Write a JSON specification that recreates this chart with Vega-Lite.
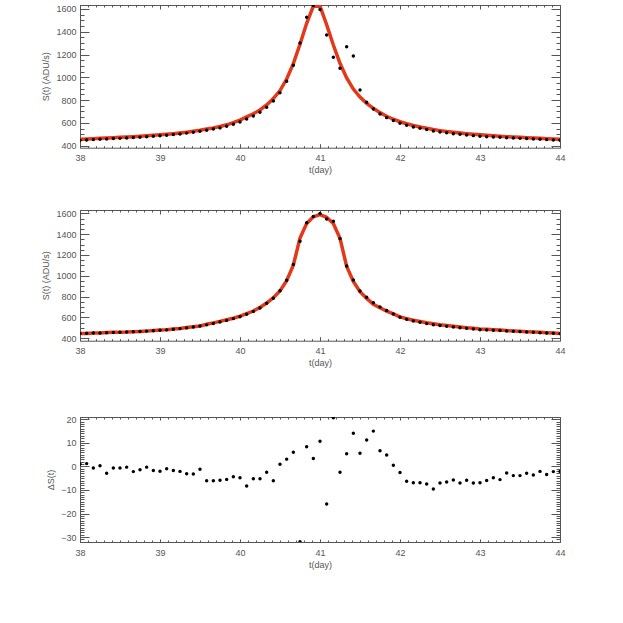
{
  "$schema": "https://vega.github.io/schema/vega-lite/v6.json",
  "padding": {"left": 41, "top": 3, "right": 5, "bottom": 5},
  "spacing": 46,
  "config": {
    "view": {"stroke": null},
    "axis": {
      "labelFont": "Liberation Sans", "labelFontSize": 9, "labelColor": "#555",
      "titleFont": "Liberation Sans", "titleFontSize": 9, "titleFontWeight": "normal", "titleColor": "#555",
      "domainColor": "#555", "tickColor": "#555", "grid": false, "domainWidth": 1, "tickWidth": 1,
      "labelFlush": false, "labelOverlap": false
    }
  },
  "datasets": {
    "p1": [
      {"t":38,"obs":448,"model":457},{"t":38.0833,"obs":450,"model":459},{"t":38.1667,"obs":453,"model":461},{"t":38.25,"obs":456,"model":464},
      {"t":38.3333,"obs":459,"model":467},{"t":38.4167,"obs":462,"model":470},{"t":38.5,"obs":464,"model":473},{"t":38.5833,"obs":467,"model":476},
      {"t":38.6667,"obs":471,"model":479},{"t":38.75,"obs":474,"model":483},{"t":38.8333,"obs":478,"model":487},{"t":38.9167,"obs":482,"model":491},
      {"t":39,"obs":487,"model":495},{"t":39.0833,"obs":492,"model":500},{"t":39.1667,"obs":497,"model":505},{"t":39.25,"obs":503,"model":511},
      {"t":39.3333,"obs":510,"model":518},{"t":39.4167,"obs":517,"model":526},{"t":39.5,"obs":526,"model":535},{"t":39.5833,"obs":536,"model":546},
      {"t":39.6667,"obs":546,"model":556},{"t":39.75,"obs":556,"model":568},{"t":39.8333,"obs":570,"model":583},{"t":39.9167,"obs":587,"model":602},
      {"t":40,"obs":608,"model":625},{"t":40.0833,"obs":634,"model":652},{"t":40.1667,"obs":661,"model":680},{"t":40.25,"obs":693,"model":713},
      {"t":40.3333,"obs":737,"model":757},{"t":40.4167,"obs":792,"model":813},{"t":40.5,"obs":864,"model":884},{"t":40.5833,"obs":966,"model":985},
      {"t":40.6667,"obs":1106,"model":1120},{"t":40.75,"obs":1302,"model":1290},{"t":40.8333,"obs":1527,"model":1474},{"t":40.9167,"obs":1630,"model":1625},
      {"t":41,"obs":1596,"model":1625},{"t":41.0833,"obs":1372,"model":1462},{"t":41.1667,"obs":1176,"model":1284},{"t":41.25,"obs":1079,"model":1123},
      {"t":41.3333,"obs":1269,"model":994},{"t":41.4167,"obs":1187,"model":897},{"t":41.5,"obs":889,"model":826},{"t":41.5833,"obs":781,"model":772},
      {"t":41.6667,"obs":722,"model":728},{"t":41.75,"obs":678,"model":690},{"t":41.8333,"obs":646,"model":658},{"t":41.9167,"obs":620,"model":632},
      {"t":42,"obs":596,"model":610},{"t":42.0833,"obs":579,"model":592},{"t":42.1667,"obs":564,"model":577},{"t":42.25,"obs":552,"model":564},
      {"t":42.3333,"obs":541,"model":552},{"t":42.4167,"obs":529,"model":541},{"t":42.5,"obs":520,"model":532},{"t":42.5833,"obs":514,"model":524},
      {"t":42.6667,"obs":505,"model":517},{"t":42.75,"obs":500,"model":511},{"t":42.8333,"obs":494,"model":505},{"t":42.9167,"obs":488,"model":500},
      {"t":43,"obs":482,"model":495},{"t":43.0833,"obs":479,"model":491},{"t":43.1667,"obs":476,"model":487},{"t":43.25,"obs":473,"model":483},
      {"t":43.3333,"obs":470,"model":479},{"t":43.4167,"obs":467,"model":476},{"t":43.5,"obs":464,"model":473},{"t":43.5833,"obs":462,"model":470},
      {"t":43.6667,"obs":459,"model":467},{"t":43.75,"obs":456,"model":464},{"t":43.8333,"obs":453,"model":461},{"t":43.9167,"obs":450,"model":458},
      {"t":44,"obs":447,"model":456}
    ],
    "p2": [
      {"t":38,"obs":446,"model":445},{"t":38.0833,"obs":448,"model":447},{"t":38.1667,"obs":450,"model":451},{"t":38.25,"obs":451,"model":451},
      {"t":38.3333,"obs":453,"model":456},{"t":38.4167,"obs":456,"model":457},{"t":38.5,"obs":458,"model":459},{"t":38.5833,"obs":460,"model":460},
      {"t":38.6667,"obs":462,"model":464},{"t":38.75,"obs":465,"model":466},{"t":38.8333,"obs":469,"model":469},{"t":38.9167,"obs":473,"model":475},
      {"t":39,"obs":477,"model":479},{"t":39.0833,"obs":481,"model":482},{"t":39.1667,"obs":487,"model":489},{"t":39.25,"obs":493,"model":495},
      {"t":39.3333,"obs":500,"model":503},{"t":39.4167,"obs":508,"model":511},{"t":39.5,"obs":518,"model":519},{"t":39.5833,"obs":529,"model":535},
      {"t":39.6667,"obs":542,"model":548},{"t":39.75,"obs":557,"model":563},{"t":39.8333,"obs":572,"model":578},{"t":39.9167,"obs":589,"model":593},
      {"t":40,"obs":608,"model":613},{"t":40.0833,"obs":630,"model":638},{"t":40.1667,"obs":657,"model":662},{"t":40.25,"obs":692,"model":697},
      {"t":40.3333,"obs":736,"model":739},{"t":40.4167,"obs":784,"model":790},{"t":40.5,"obs":856,"model":855},{"t":40.5833,"obs":957,"model":954},
      {"t":40.6667,"obs":1108,"model":1102},{"t":40.75,"obs":1331,"model":1363},{"t":40.8333,"obs":1510,"model":1502},{"t":40.9167,"obs":1570,"model":1567},
      {"t":41,"obs":1598,"model":1587},{"t":41.0833,"obs":1546,"model":1562},{"t":41.1667,"obs":1523,"model":1502},{"t":41.25,"obs":1357,"model":1360},
      {"t":41.3333,"obs":1094,"model":1089},{"t":41.4167,"obs":960,"model":946},{"t":41.5,"obs":854,"model":848},{"t":41.5833,"obs":794,"model":783},
      {"t":41.6667,"obs":742,"model":727},{"t":41.75,"obs":701,"model":694},{"t":41.8333,"obs":666,"model":661},{"t":41.9167,"obs":634,"model":634},
      {"t":42,"obs":602,"model":605},{"t":42.0833,"obs":582,"model":588},{"t":42.1667,"obs":566,"model":573},{"t":42.25,"obs":554,"model":561},
      {"t":42.3333,"obs":541,"model":549},{"t":42.4167,"obs":531,"model":540},{"t":42.5,"obs":522,"model":530},{"t":42.5833,"obs":515,"model":522},
      {"t":42.6667,"obs":509,"model":515},{"t":42.75,"obs":502,"model":509},{"t":42.8333,"obs":496,"model":502},{"t":42.9167,"obs":490,"model":497},
      {"t":43,"obs":483,"model":490},{"t":43.0833,"obs":480,"model":486},{"t":43.1667,"obs":477,"model":482},{"t":43.25,"obs":474,"model":479},
      {"t":43.3333,"obs":470,"model":474},{"t":43.4167,"obs":467,"model":471},{"t":43.5,"obs":464,"model":468},{"t":43.5833,"obs":461,"model":464},
      {"t":43.6667,"obs":458,"model":461},{"t":43.75,"obs":454,"model":457},{"t":43.8333,"obs":451,"model":454},{"t":43.9167,"obs":448,"model":450},
      {"t":44,"obs":445,"model":447}
    ],
    "p3": [
      {"t":38,"res":1.0},{"t":38.0833,"res":1.2},{"t":38.1667,"res":-0.7},{"t":38.25,"res":0.3},{"t":38.3333,"res":-2.9},{"t":38.4167,"res":-0.7},
      {"t":38.5,"res":-0.7},{"t":38.5833,"res":-0.3},{"t":38.6667,"res":-2.2},{"t":38.75,"res":-1.4},{"t":38.8333,"res":-0.3},{"t":38.9167,"res":-1.7},
      {"t":39,"res":-2.0},{"t":39.0833,"res":-1.0},{"t":39.1667,"res":-1.7},{"t":39.25,"res":-2.1},{"t":39.3333,"res":-3.1},{"t":39.4167,"res":-3.2},
      {"t":39.5,"res":-1.2},{"t":39.5833,"res":-6.1},{"t":39.6667,"res":-6.1},{"t":39.75,"res":-5.9},{"t":39.8333,"res":-5.5},{"t":39.9167,"res":-4.4},
      {"t":40,"res":-4.8},{"t":40.0833,"res":-8.3},{"t":40.1667,"res":-5.2},{"t":40.25,"res":-5.2},{"t":40.3333,"res":-2.5},{"t":40.4167,"res":-6.1},
      {"t":40.5,"res":0.9},{"t":40.5833,"res":3.1},{"t":40.6667,"res":6.0},{"t":40.75,"res":-32.0},{"t":40.8333,"res":8.4},{"t":40.9167,"res":3.4},
      {"t":41,"res":10.7},{"t":41.0833,"res":-16.0},{"t":41.1667,"res":20.7},{"t":41.25,"res":-2.5},{"t":41.3333,"res":5.4},{"t":41.4167,"res":14.1},
      {"t":41.5,"res":5.6},{"t":41.5833,"res":11.2},{"t":41.6667,"res":15.0},{"t":41.75,"res":6.7},{"t":41.8333,"res":4.9},{"t":41.9167,"res":0.5},
      {"t":42,"res":-2.6},{"t":42.0833,"res":-6.3},{"t":42.1667,"res":-6.9},{"t":42.25,"res":-6.9},{"t":42.3333,"res":-7.5},{"t":42.4167,"res":-9.6},
      {"t":42.5,"res":-7.0},{"t":42.5833,"res":-6.6},{"t":42.6667,"res":-5.8},{"t":42.75,"res":-7.0},{"t":42.8333,"res":-5.9},{"t":42.9167,"res":-7.0},
      {"t":43,"res":-6.9},{"t":43.0833,"res":-6.0},{"t":43.1667,"res":-4.8},{"t":43.25,"res":-5.6},{"t":43.3333,"res":-2.8},{"t":43.4167,"res":-3.9},
      {"t":43.5,"res":-3.9},{"t":43.5833,"res":-2.9},{"t":43.6667,"res":-3.6},{"t":43.75,"res":-2.1},{"t":43.8333,"res":-3.4},{"t":43.9167,"res":-2.2},
      {"t":44,"res":-2.1}
    ]
  },
  "vconcat": [
    {
      "spacing": 34,
      "vconcat": [
        {
          "width": 480, "height": 142.7,
          "data": {"name": "p1"},
          "layer": [
            {"mark": {"type": "line", "color": "#e3391a", "strokeWidth": 3.5, "clip": true},
             "encoding": {
               "x": {"field": "t", "type": "quantitative", "scale": {"domain": [38, 44], "nice": false, "zero": false},
                     "axis": {"orient": "bottom", "values": [38,39,40,41,42,43,44], "format": "d", "tickSize": -4, "labelPadding": 10, "title": "t(day)", "titlePadding": 3}},
               "y": {"field": "model", "type": "quantitative", "scale": {"domain": [382, 1635], "nice": false, "zero": false},
                     "axis": {"orient": "left", "values": [400,600,800,1000,1200,1400,1600], "format": "d", "tickSize": -9, "labelPadding": 13, "title": "S(t)  (ADU/s)", "titlePadding": 5}}
             }},
            {"mark": {"type": "circle", "color": "black", "size": 12, "opacity": 1, "clip": true},
             "encoding": {
               "x": {"field": "t", "type": "quantitative", "scale": {"domain": [38, 44], "nice": false, "zero": false},
                     "axis": {"orient": "top", "values": [38,39,40,41,42,43,44], "tickSize": -4, "labels": false, "title": null}},
               "y": {"field": "obs", "type": "quantitative", "scale": {"domain": [382, 1635], "nice": false, "zero": false},
                     "axis": {"orient": "right", "values": [400,600,800,1000,1200,1400,1600], "tickSize": -9, "labels": false, "title": null}}
             }},
            {"mark": {"type": "circle", "opacity": 0},
             "encoding": {
               "x": {"field": "t", "type": "quantitative", "scale": {"domain": [38, 44], "nice": false, "zero": false},
                     "axis": {"orient": "bottom", "values": [38,38.1,38.2,38.3,38.4,38.5,38.6,38.7,38.8,38.9,39,39.1,39.2,39.3,39.4,39.5,39.6,39.7,39.8,39.9,40,40.1,40.2,40.3,40.4,40.5,40.6,40.7,40.8,40.9,41,41.1,41.2,41.3,41.4,41.5,41.6,41.7,41.8,41.9,42,42.1,42.2,42.3,42.4,42.5,42.6,42.7,42.8,42.9,43,43.1,43.2,43.3,43.4,43.5,43.6,43.7,43.8,43.9,44], "tickSize": -2, "labels": false, "domain": false, "title": null}},
               "y": {"field": "model", "type": "quantitative", "scale": {"domain": [382, 1635], "nice": false, "zero": false},
                     "axis": {"orient": "left", "values": [400,450,500,550,600,650,700,750,800,850,900,950,1000,1050,1100,1150,1200,1250,1300,1350,1400,1450,1500,1550,1600], "tickSize": -4, "labels": false, "domain": false, "title": null}}
             }},
            {"mark": {"type": "circle", "opacity": 0},
             "encoding": {
               "x": {"field": "t", "type": "quantitative", "scale": {"domain": [38, 44], "nice": false, "zero": false},
                     "axis": {"orient": "top", "values": [38,38.1,38.2,38.3,38.4,38.5,38.6,38.7,38.8,38.9,39,39.1,39.2,39.3,39.4,39.5,39.6,39.7,39.8,39.9,40,40.1,40.2,40.3,40.4,40.5,40.6,40.7,40.8,40.9,41,41.1,41.2,41.3,41.4,41.5,41.6,41.7,41.8,41.9,42,42.1,42.2,42.3,42.4,42.5,42.6,42.7,42.8,42.9,43,43.1,43.2,43.3,43.4,43.5,43.6,43.7,43.8,43.9,44], "tickSize": -2, "labels": false, "domain": false, "title": null}},
               "y": {"field": "model", "type": "quantitative", "scale": {"domain": [382, 1635], "nice": false, "zero": false},
                     "axis": {"orient": "right", "values": [400,450,500,550,600,650,700,750,800,850,900,950,1000,1050,1100,1150,1200,1250,1300,1350,1400,1450,1500,1550,1600], "tickSize": -4, "labels": false, "domain": false, "title": null}}
             }}
          ],
          "resolve": {"axis": {"x": "independent", "y": "independent"}}
        },
        {
          "width": 480, "height": 130.7,
          "data": {"name": "p2"},
          "layer": [
            {"mark": {"type": "line", "color": "#e3391a", "strokeWidth": 3.5, "clip": true},
             "encoding": {
               "x": {"field": "t", "type": "quantitative", "scale": {"domain": [38, 44], "nice": false, "zero": false},
                     "axis": {"orient": "bottom", "values": [38,39,40,41,42,43,44], "format": "d", "tickSize": -4, "labelPadding": 10, "title": "t(day)", "titlePadding": 3}},
               "y": {"field": "model", "type": "quantitative", "scale": {"domain": [377, 1632], "nice": false, "zero": false},
                     "axis": {"orient": "left", "values": [400,600,800,1000,1200,1400,1600], "format": "d", "tickSize": -9, "labelPadding": 13, "title": "S(t)  (ADU/s)", "titlePadding": 5}}
             }},
            {"mark": {"type": "circle", "color": "black", "size": 12, "opacity": 1, "clip": true},
             "encoding": {
               "x": {"field": "t", "type": "quantitative", "scale": {"domain": [38, 44], "nice": false, "zero": false},
                     "axis": {"orient": "top", "values": [38,39,40,41,42,43,44], "tickSize": -4, "labels": false, "title": null}},
               "y": {"field": "obs", "type": "quantitative", "scale": {"domain": [377, 1632], "nice": false, "zero": false},
                     "axis": {"orient": "right", "values": [400,600,800,1000,1200,1400,1600], "tickSize": -9, "labels": false, "title": null}}
             }},
            {"mark": {"type": "circle", "opacity": 0},
             "encoding": {
               "x": {"field": "t", "type": "quantitative", "scale": {"domain": [38, 44], "nice": false, "zero": false},
                     "axis": {"orient": "bottom", "values": [38,38.1,38.2,38.3,38.4,38.5,38.6,38.7,38.8,38.9,39,39.1,39.2,39.3,39.4,39.5,39.6,39.7,39.8,39.9,40,40.1,40.2,40.3,40.4,40.5,40.6,40.7,40.8,40.9,41,41.1,41.2,41.3,41.4,41.5,41.6,41.7,41.8,41.9,42,42.1,42.2,42.3,42.4,42.5,42.6,42.7,42.8,42.9,43,43.1,43.2,43.3,43.4,43.5,43.6,43.7,43.8,43.9,44], "tickSize": -2, "labels": false, "domain": false, "title": null}},
               "y": {"field": "obs", "type": "quantitative", "scale": {"domain": [377, 1632], "nice": false, "zero": false},
                     "axis": {"orient": "left", "values": [400,450,500,550,600,650,700,750,800,850,900,950,1000,1050,1100,1150,1200,1250,1300,1350,1400,1450,1500,1550,1600], "tickSize": -4, "labels": false, "domain": false, "title": null}}
             }},
            {"mark": {"type": "circle", "opacity": 0},
             "encoding": {
               "x": {"field": "t", "type": "quantitative", "scale": {"domain": [38, 44], "nice": false, "zero": false},
                     "axis": {"orient": "top", "values": [38,38.1,38.2,38.3,38.4,38.5,38.6,38.7,38.8,38.9,39,39.1,39.2,39.3,39.4,39.5,39.6,39.7,39.8,39.9,40,40.1,40.2,40.3,40.4,40.5,40.6,40.7,40.8,40.9,41,41.1,41.2,41.3,41.4,41.5,41.6,41.7,41.8,41.9,42,42.1,42.2,42.3,42.4,42.5,42.6,42.7,42.8,42.9,43,43.1,43.2,43.3,43.4,43.5,43.6,43.7,43.8,43.9,44], "tickSize": -2, "labels": false, "domain": false, "title": null}},
               "y": {"field": "obs", "type": "quantitative", "scale": {"domain": [377, 1632], "nice": false, "zero": false},
                     "axis": {"orient": "right", "values": [400,450,500,550,600,650,700,750,800,850,900,950,1000,1050,1100,1150,1200,1250,1300,1350,1400,1450,1500,1550,1600], "tickSize": -4, "labels": false, "domain": false, "title": null}}
             }}
          ],
          "resolve": {"axis": {"x": "independent", "y": "independent"}}
        }
      ]
    },
    {
      "width": 480, "height": 125,
      "data": {"name": "p3"},
      "layer": [
        {"mark": {"type": "circle", "color": "black", "size": 12, "opacity": 1, "clip": true},
         "encoding": {
           "x": {"field": "t", "type": "quantitative", "scale": {"domain": [38, 44], "nice": false, "zero": false},
                 "axis": {"orient": "bottom", "values": [38,39,40,41,42,43,44], "format": "d", "tickSize": -3, "labelPadding": 9, "title": "t(day)", "titlePadding": 3}},
           "y": {"field": "res", "type": "quantitative", "scale": {"domain": [-32.1, 21], "nice": false, "zero": false},
                 "axis": {"orient": "left", "values": [-30,-20,-10,0,10,20], "format": "d", "tickSize": -9, "labelPadding": 13, "title": "ΔS(t)", "titlePadding": 5}}
         }},
        {"mark": {"type": "circle", "opacity": 0},
         "encoding": {
           "x": {"field": "t", "type": "quantitative", "scale": {"domain": [38, 44], "nice": false, "zero": false},
                 "axis": {"orient": "top", "values": [38,39,40,41,42,43,44], "tickSize": -3, "labels": false, "title": null}},
           "y": {"field": "res", "type": "quantitative", "scale": {"domain": [-32.1, 21], "nice": false, "zero": false},
                 "axis": {"orient": "right", "values": [-30,-20,-10,0,10,20], "tickSize": -9, "labels": false, "title": null}}
         }},
        {"mark": {"type": "circle", "opacity": 0},
         "encoding": {
           "x": {"field": "t", "type": "quantitative", "scale": {"domain": [38, 44], "nice": false, "zero": false},
                 "axis": {"orient": "bottom", "values": [38,38.1,38.2,38.3,38.4,38.5,38.6,38.7,38.8,38.9,39,39.1,39.2,39.3,39.4,39.5,39.6,39.7,39.8,39.9,40,40.1,40.2,40.3,40.4,40.5,40.6,40.7,40.8,40.9,41,41.1,41.2,41.3,41.4,41.5,41.6,41.7,41.8,41.9,42,42.1,42.2,42.3,42.4,42.5,42.6,42.7,42.8,42.9,43,43.1,43.2,43.3,43.4,43.5,43.6,43.7,43.8,43.9,44], "tickSize": -2, "labels": false, "domain": false, "title": null}},
           "y": {"field": "res", "type": "quantitative", "scale": {"domain": [-32.1, 21], "nice": false, "zero": false},
                 "axis": {"orient": "left", "values": [-32,-31,-30,-29,-28,-27,-26,-25,-24,-23,-22,-21,-20,-19,-18,-17,-16,-15,-14,-13,-12,-11,-10,-9,-8,-7,-6,-5,-4,-3,-2,-1,0,1,2,3,4,5,6,7,8,9,10,11,12,13,14,15,16,17,18,19,20,21], "tickSize": -4, "labels": false, "domain": false, "title": null}}
         }},
        {"mark": {"type": "circle", "opacity": 0},
         "encoding": {
           "x": {"field": "t", "type": "quantitative", "scale": {"domain": [38, 44], "nice": false, "zero": false},
                 "axis": {"orient": "top", "values": [38,38.1,38.2,38.3,38.4,38.5,38.6,38.7,38.8,38.9,39,39.1,39.2,39.3,39.4,39.5,39.6,39.7,39.8,39.9,40,40.1,40.2,40.3,40.4,40.5,40.6,40.7,40.8,40.9,41,41.1,41.2,41.3,41.4,41.5,41.6,41.7,41.8,41.9,42,42.1,42.2,42.3,42.4,42.5,42.6,42.7,42.8,42.9,43,43.1,43.2,43.3,43.4,43.5,43.6,43.7,43.8,43.9,44], "tickSize": -2, "labels": false, "domain": false, "title": null}},
           "y": {"field": "res", "type": "quantitative", "scale": {"domain": [-32.1, 21], "nice": false, "zero": false},
                 "axis": {"orient": "right", "values": [-32,-31,-30,-29,-28,-27,-26,-25,-24,-23,-22,-21,-20,-19,-18,-17,-16,-15,-14,-13,-12,-11,-10,-9,-8,-7,-6,-5,-4,-3,-2,-1,0,1,2,3,4,5,6,7,8,9,10,11,12,13,14,15,16,17,18,19,20,21], "tickSize": -4, "labels": false, "domain": false, "title": null}}
         }}
      ],
      "resolve": {"axis": {"x": "independent", "y": "independent"}}
    }
  ]
}
